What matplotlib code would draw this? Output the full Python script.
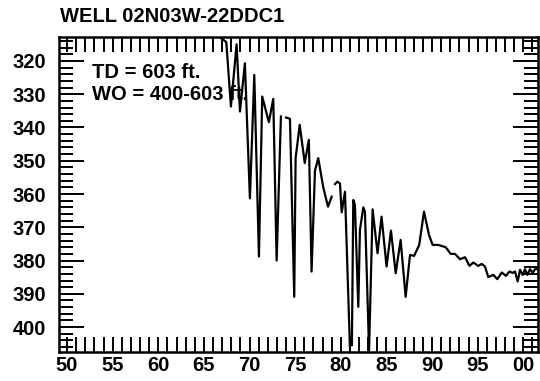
import numpy as np
import matplotlib.pyplot as plt
from matplotlib.ticker import MultipleLocator, FuncFormatter

plt.rcParams['font.family'] = ['Liberation Sans', 'DejaVu Sans']
plt.rcParams['font.weight'] = 'bold'

# water level record, depth below land surface (ft) vs year (19xx)
years = [65.8, 67.45, 67.96, 68.58, 68.95, 69.49, 70.04, 70.52, 71.03, 71.39,
         72.12, 72.6, 72.97, 73.44, 73.7, 74.0, 74.43, 74.9, 75.05, 75.5,
         76.05, 76.5, 76.8, 77.17, 77.53, 78.08, 78.6, 79.0, 79.2, 79.37,
         79.62, 79.91, 80.1, 80.46, 81.0, 81.12, 81.22, 81.37, 81.55, 81.92,
         82.1, 82.47, 82.65, 83.1, 83.49, 84.03, 84.47, 85.02, 85.5, 86.02,
         86.56, 87.11, 87.59, 88.03, 88.6, 89.12, 89.67, 90.07, 90.69, 91.5,
         92.05, 92.52, 93.07, 93.62, 94.1, 94.53, 95.08, 95.45, 95.81, 96.17,
         96.72, 97.16, 97.64, 98.11, 98.48, 98.85, 99.1, 99.39, 99.65, 99.94,
         100.19, 100.45, 100.74, 101.04, 101.29, 101.65]
depth = [311.0, 314.3, 333.7, 315.0, 335.2, 320.7, 361.3, 324.2, 378.8, 330.7,
         338.4, 331.4, 380.0, 336.7, np.nan, 337.0, 337.4, 390.9, 349.2, 339.2,
         350.7, 343.7, 383.3, 353.0, 349.2, 358.0, 363.8, 360.8, np.nan, 357.0,
         356.3, 356.8, 365.5, 359.3, 405.8, 403.5, 405.5, 361.8, 363.3, 393.9,
         370.8, 364.0, 365.3, 407.0, 364.6, 377.8, 366.8, 381.8, 371.0, 383.8,
         373.8, 390.9, 378.3, 378.6, 375.3, 365.3, 372.3, 375.3, 375.3, 376.0,
         378.0, 378.0, 379.6, 379.0, 381.6, 380.6, 381.6, 381.0, 381.8, 385.0,
         384.3, 385.6, 383.6, 384.6, 383.3, 383.7, 383.3, 386.3, 382.8, 384.3,
         382.6, 384.3, 382.6, 383.7, 382.6, 382.6]

well = 'WELL 02N03W-22DDC1'
notes = ['TD = 603 ft.', 'WO = 400-603 ft.']

fig = plt.figure(figsize=(5.4, 3.81), dpi=100)
ax = fig.add_axes([0.109, 0.076, 0.887, 0.826])

ax.plot(years, depth, color='k', lw=1.6)

ax.set_xlim(49.1, 101.6)
ax.set_ylim(407.5, 312.9)

ax.xaxis.set_major_locator(MultipleLocator(5))
ax.xaxis.set_minor_locator(MultipleLocator(1))
ax.xaxis.set_major_formatter(FuncFormatter(lambda v, p: '{:02d}'.format(int(round(v)) % 100)))
ax.yaxis.set_major_locator(MultipleLocator(10))
ax.yaxis.set_minor_locator(MultipleLocator(2))

ax.tick_params(axis='x', which='both', direction='in', top=True, bottom=True,
               length=11, width=1.4, labelsize=14.5, pad=3)
ax.tick_params(axis='y', which='major', direction='in', left=True, right=True,
               length=18, width=1.4, labelsize=14.5, pad=9)
ax.tick_params(axis='y', which='minor', direction='in', left=True, right=True,
               length=10, width=1.4)
for s in ax.spines.values():
    s.set_linewidth(1.8)

fig.text(92 / 540, 1 - 73 / 381, notes[0], fontsize=14.5, va='center')
fig.text(92 / 540, 1 - 94 / 381, notes[1], fontsize=14.5, va='center')
fig.text(60 / 540, 1 - 17 / 381, well, fontsize=14.5, va='center')

plt.savefig('out.png', dpi=100)
